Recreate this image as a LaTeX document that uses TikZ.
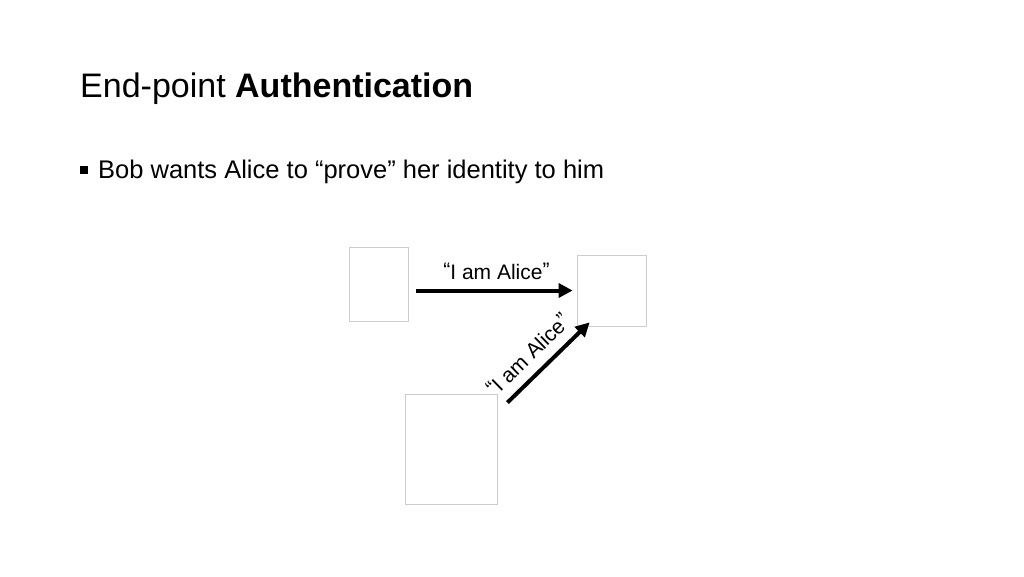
\documentclass[tikz,border=0pt]{standalone}
\usepackage{fontspec}
\setmainfont{Liberation Sans}
\usetikzlibrary{arrows.meta}
\newcommand\saying[1]{\raisebox{2pt}{“}#1\raisebox{2pt}{”}}

\begin{document}
\begin{tikzpicture}[x=1pt, y=-1pt,
  picbox/.style={draw=gray!40, line width=0.8pt, inner sep=0pt},
  msg/.style={-{Triangle[length=14pt,width=14pt]}, line width=4pt},
  quote/.style={font=\fontsize{21}{22}\selectfont, inner sep=2pt}]
\useasboundingbox (0,0) rectangle (1024,576);
% heading and bullet
\node[anchor=base west, inner sep=0pt, font=\fontsize{34}{40}\selectfont] (title) at (80,97) {End-point \textbf{Authentication}};
\node[anchor=base west, inner sep=0pt, font=\fontsize{25.5}{30}\selectfont] (point) at (98,178) {Bob wants Alice to “prove” her identity to him};
\fill (80,166) rectangle (88,174);
% pictures
\node[picbox, minimum width=59pt, minimum height=74pt] (alice) at (378.5,284) {};
\node[picbox, minimum width=69pt, minimum height=71pt] (bob) at (611.5,290.5) {};
\node[picbox, minimum width=92pt, minimum height=110pt] (trudy) at (451,449) {};
% messages
\draw[msg] ([xshift=8pt]alice.east |- bob.west) -- (bob.west) [shorten >=4pt] node[quote, midway, above=7pt] {\saying{I am Alice}};
\draw[msg] ([shift={(10,9)}]trudy.north east) -- ([shift={(13,-4)}]bob.south west) node[quote, pos=0.42, sloped, above=8pt] {\saying{I am Alice}};
\end{tikzpicture}
\end{document}
